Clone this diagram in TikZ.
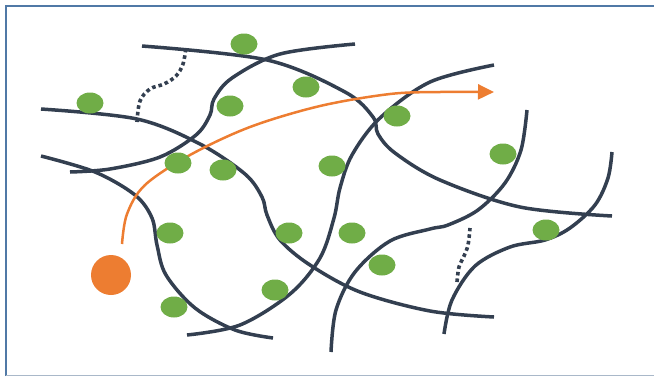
\documentclass[tikz,border=0pt]{standalone}
\usetikzlibrary{shapes.geometric,arrows.meta}
\definecolor{navy}{HTML}{333F50}
\definecolor{leaf}{HTML}{70AD47}
\definecolor{tang}{HTML}{ED7D31}
\definecolor{frameblue}{HTML}{5079A6}
\definecolor{framelight}{HTML}{A9B8C9}
\tikzset{
  fibre/.style={draw=navy, line width=3.5pt},
  dotfibre/.style={draw=navy, line width=3.6pt, dash pattern=on 3.6pt off 3pt},
  blob/.style={ellipse, fill=leaf, draw=none, minimum width=27pt, minimum height=21pt, inner sep=0pt},
  pathway/.style={draw=tang, line width=2.5pt, -{Triangle[length=16pt,width=15pt]}},
}
\begin{document}
\begin{tikzpicture}[x=1pt,y=-1pt]
\useasboundingbox (0,0) rectangle (654,376);
% frame
\draw[frameblue, line width=2.2pt] (6,376) -- (6,6) -- (654,6);
\draw[framelight, line width=1.2pt] (6,375.4) -- (654,375.4);
% fibres
\draw[fibre] plot[smooth, tension=0.55] coordinates {(142,46) (267,60) (345,92) (373,117) (378,134) (395,153) (440,180) (520,207) (612,216)};
\draw[fibre] plot[smooth, tension=0.55] coordinates {(355,44) (280,54) (232,78) (214,99) (210,115) (196,135) (160,157) (110,169) (70,172)};
\draw[fibre] plot[smooth, tension=0.55] coordinates {(41,109) (137,119) (200,144) (245,174) (262,197) (267,215) (280,240) (310,265) (360,292) (430,311) (494,317)};
\draw[fibre] plot[smooth, tension=0.55] coordinates {(41,156) (95,172) (135,195) (152,218) (157,245) (166,275) (195,308) (235,330) (273,338)};
\draw[fibre] plot[smooth, tension=0.55] coordinates {(187,335) (240,325) (290,294) (320,258) (334,218) (340,188) (352,155) (380,118) (430,82) (494,65)};
\draw[fibre] plot[smooth, tension=0.55] coordinates {(331,352) (336,310) (355,272) (390,241) (430,229) (448,225) (478,210) (505,183) (521,150) (527,110)};
\draw[fibre] plot[smooth, tension=0.55] coordinates {(444,334) (452,300) (475,266) (510,247) (545,240) (570,228) (595,205) (608,178) (612,152)};
% dotted links
\draw[dotfibre] plot[smooth, tension=0.6] coordinates {(137,122) (140,101) (150,89) (164,84) (176,76) (183,64) (186,47)};
\draw[dotfibre] plot[smooth, tension=0.6] coordinates {(457,282) (459,267) (464,256) (468,245) (470,228)};
% orange particle and path
\node[circle, fill=tang, minimum size=40pt, inner sep=0pt] (particle) at (111,275) {};
\draw[pathway] plot[smooth, tension=0.55] coordinates {(122,244) (127,214) (145,185) (190,155) (250,127) (320,106) (390,94) (440,92) (494,92)};
% green blobs
\node[blob] (g1) at (244,44) {};
\node[blob] (g2) at (306,87) {};
\node[blob] (g3) at (230,106) {};
\node[blob] (g4) at (90,103) {};
\node[blob] (g5) at (178,163) {};
\node[blob] (g6) at (223,170) {};
\node[blob] (g7) at (332,166) {};
\node[blob] (g8) at (397,116) {};
\node[blob] (g9) at (503,154) {};
\node[blob] (g10) at (170,233) {};
\node[blob] (g11) at (289,233) {};
\node[blob] (g12) at (352,233) {};
\node[blob] (g13) at (382,265) {};
\node[blob] (g14) at (546,230) {};
\node[blob] (g15) at (275,290) {};
\node[blob] (g16) at (174,307) {};
\end{tikzpicture}
\end{document}
